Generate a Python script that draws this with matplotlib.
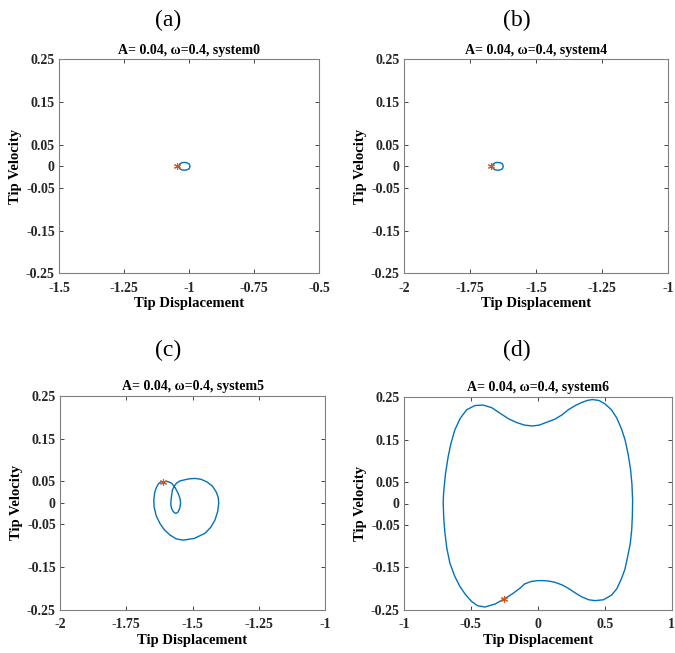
import matplotlib
matplotlib.use("Agg")
import matplotlib.pyplot as plt

plt.rcParams['font.family'] = ['Liberation Serif', 'DejaVu Serif']

titles = ["A= 0.04, \u03c9=0.4, system0", "A= 0.04, \u03c9=0.4, system4",
          "A= 0.04, \u03c9=0.4, system5", "A= 0.04, \u03c9=0.4, system6"]
letters = ["(a)", "(b)", "(c)", "(d)"]

yticks = [-0.25, -0.15, -0.05, 0, 0.05, 0.15, 0.25]
ytick_labels = ["-0.25", "-0.15", "-0.05", "0", "0.05", "0.15", "0.25"]

xlims = [(-1.5, -0.5), (-2, -1), (-2, -1), (-1, 1)]
xticks_list = [[-1.5, -1.25, -1, -0.75, -0.5],
               [-2, -1.75, -1.5, -1.25, -1],
               [-2, -1.75, -1.5, -1.25, -1],
               [-1, -0.5, 0, 0.5, 1]]
xtick_labels_list = [["-1.5", "-1.25", "-1", "-0.75", "-0.5"],
                     ["-2", "-1.75", "-1.5", "-1.25", "-1"],
                     ["-2", "-1.75", "-1.5", "-1.25", "-1"],
                     ["-1", "-0.5", "0", "0.5", "1"]]

# trajectories
disp_a = [-1.040, -1.036, -1.027, -1.018, -1.009, -0.999, -0.996, -0.999, -1.009,
          -1.018, -1.027, -1.036, -1.040]
vel_a = [0.000, 0.0055, 0.0085, 0.009, 0.0085, 0.0055, 0.000, -0.0055, -0.0085,
         -0.009, -0.0085, -0.0055, 0.000]
star_a = (-1.046, 0.0)

disp_b = [-1.666, -1.662, -1.654, -1.645, -1.636, -1.627, -1.624, -1.627, -1.636,
          -1.645, -1.654, -1.662, -1.666]
vel_b = [0.000, 0.0055, 0.0085, 0.009, 0.0085, 0.0055, 0.000, -0.0055, -0.0085,
         -0.009, -0.0085, -0.0055, 0.000]
star_b = (-1.670, 0.0)

disp_c = [-1.610, -1.595, -1.579, -1.566, -1.554, -1.547, -1.545, -1.548, -1.554,
          -1.560, -1.566, -1.573, -1.579, -1.582, -1.581, -1.576, -1.568, -1.560,
          -1.548, -1.535, -1.513, -1.491, -1.468, -1.446, -1.425, -1.411, -1.403,
          -1.401, -1.405, -1.415, -1.431, -1.453, -1.493, -1.535, -1.562, -1.585,
          -1.606, -1.623, -1.637, -1.645, -1.646, -1.642, -1.636, -1.629, -1.620,
          -1.610]
vel_c = [0.049, 0.050, 0.046, 0.036, 0.022, 0.010, -0.001, -0.012, -0.021,
         -0.024, -0.024, -0.020, -0.013, -0.003, 0.007, 0.030, 0.040, 0.046,
         0.051, 0.053, 0.056, 0.057, 0.055, 0.049, 0.039, 0.026, 0.013,
         -0.001, -0.020, -0.040, -0.057, -0.071, -0.083, -0.087, -0.084, -0.075,
         -0.063, -0.048, -0.030, -0.009, 0.008, 0.026, 0.036, 0.044, 0.049,
         0.049]
star_c = (-1.610, 0.049)

disp_d = [-0.251, -0.320, -0.395, -0.450, -0.495, -0.540, -0.582, -0.622, -0.657,
          -0.680, -0.694, -0.703, -0.707, -0.705, -0.702, -0.690, -0.670, -0.650,
          -0.620, -0.580, -0.532, -0.470, -0.408, -0.345, -0.283, -0.220, -0.158,
          -0.100, -0.040, 0.010, 0.060, 0.128, 0.180, 0.227, 0.280, 0.327,
          0.370, 0.407, 0.455, 0.501, 0.550, 0.589, 0.625, 0.651, 0.675,
          0.693, 0.703, 0.708, 0.706, 0.701, 0.690, 0.671, 0.650, 0.621,
          0.590, 0.551, 0.490, 0.427, 0.380, 0.327, 0.280, 0.227, 0.180,
          0.128, 0.080, 0.040, 0.000, -0.050, -0.100, -0.134, -0.190, -0.251]
vel_d = [-0.224, -0.236, -0.243, -0.240, -0.230, -0.214, -0.195, -0.170, -0.140,
         -0.105, -0.070, -0.035, 0.001, 0.020, 0.032, 0.070, 0.110, 0.140,
         0.173, 0.200, 0.220, 0.230, 0.231, 0.225, 0.212, 0.199, 0.190,
         0.184, 0.182, 0.184, 0.190, 0.198, 0.208, 0.220, 0.230, 0.237,
         0.242, 0.244, 0.242, 0.234, 0.220, 0.201, 0.175, 0.150, 0.115,
         0.079, 0.045, 0.008, -0.030, -0.063, -0.095, -0.125, -0.155, -0.179,
         -0.200, -0.215, -0.226, -0.228, -0.226, -0.219, -0.210, -0.199, -0.191,
         -0.185, -0.182, -0.181, -0.181, -0.183, -0.189, -0.199, -0.212, -0.224]
star_d = (-0.251, -0.224)

disps = [disp_a, disp_b, disp_c, disp_d]
vels = [vel_a, vel_b, vel_c, vel_d]
stars = [star_a, star_b, star_c, star_d]

W, H = 675, 653
fig = plt.figure(figsize=(W / 100, H / 100), dpi=100)

# axes boxes in pixels: left, top, right, bottom
boxes = [(59, 59.3, 319, 273.3), (404, 59.3, 668, 273.3),
         (60, 395.7, 325, 610), (404, 397, 671.7, 610)]
letter_pos = [(168, 20), (517, 20), (168, 350), (517, 350)]

line_color = '#0072BD'
star_color = '#D95319'
spine_color = '#262626'

for i in range(4):
    l, t, r, b = boxes[i]
    ax = fig.add_axes([l / W, 1 - b / H, (r - l) / W, (b - t) / H])
    ax.plot(disps[i], vels[i], color=line_color, lw=1.0)
    ax.plot([stars[i][0]], [stars[i][1]], marker=(6, 2, 0), color=star_color,
            markersize=5, markeredgewidth=0.8, linestyle='none')
    ax.set_xlim(*xlims[i])
    ax.set_ylim(-0.25, 0.25)
    ax.set_xticks(xticks_list[i])
    ax.set_xticklabels(xtick_labels_list[i], fontsize=10, fontweight='bold')
    ax.set_yticks(yticks)
    ax.set_yticklabels(ytick_labels, fontsize=10, fontweight='bold')
    ax.tick_params(direction='in', length=3, width=0.6, top=True, right=True,
                   colors=spine_color)
    ax.tick_params(axis='x', pad=6)
    ax.tick_params(axis='y', pad=3)
    for s in ax.spines.values():
        s.set_color('#808080')
        s.set_linewidth(0.8)
    ax.set_xlabel("Tip Displacement", fontsize=10.5, fontweight='bold', labelpad=2)
    ax.set_ylabel("Tip Velocity", fontsize=10.5, fontweight='bold', labelpad=3)
    ax.set_title(titles[i], fontsize=10, fontweight='bold', pad=4)
    lx, ly = letter_pos[i]
    fig.text(lx / W, 1 - ly / H, letters[i], ha='center', va='center', fontsize=17)

fig.savefig("out.png", dpi=100, facecolor='white')
